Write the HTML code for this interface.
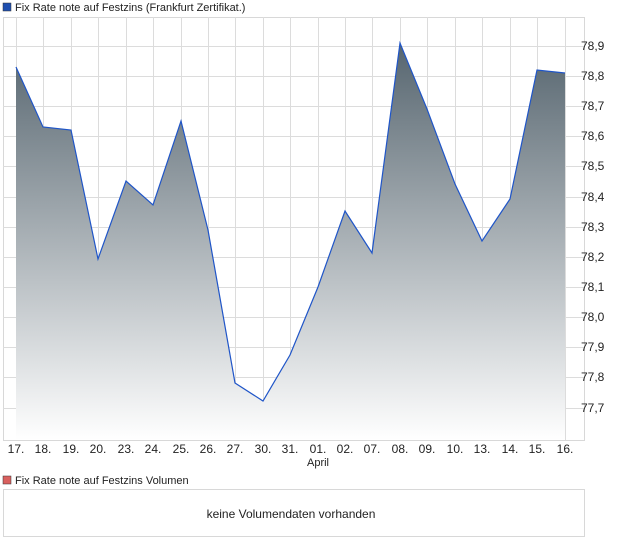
<!DOCTYPE html>
<html><head><style>
body{margin:0;width:620px;height:546px;background:#fff;font-family:"Liberation Sans",sans-serif;overflow:hidden}
</style></head><body>
<svg width="620" height="546" xmlns="http://www.w3.org/2000/svg" font-family="Liberation Sans, sans-serif" font-size="11">
<defs><linearGradient id="g" x1="0" y1="0" x2="0" y2="1">
<stop offset="0" stop-color="#56656f"/><stop offset="1" stop-color="#ffffff"/></linearGradient></defs>
<rect x="3" y="3" width="8" height="8" fill="#1f4fb0" stroke="#333" stroke-width="0.5"/>
<text x="15" y="11" fill="#222">Fix Rate note auf Festzins (Frankfurt Zertifikat.)</text>
<rect x="3.5" y="17.5" width="581" height="423" fill="none" stroke="#d8d8d8"/>
<g stroke="#dcdcdc" stroke-width="1">
<path d="M16.5 17V440M43.5 17V440M71.5 17V440M98.5 17V440M126.5 17V440M153.5 17V440M181.5 17V440M208.5 17V440M235.5 17V440M263.5 17V440M290.5 17V440M318.5 17V440M345.5 17V440M372.5 17V440M400.5 17V440M427.5 17V440M455.5 17V440M482.5 17V440M510.5 17V440M537.5 17V440M565.5 17V440"/>
<path d="M3 46.5H585M3 76.5H585M3 106.5H585M3 136.5H585M3 166.5H585M3 197.5H585M3 227.5H585M3 257.5H585M3 287.5H585M3 317.5H585M3 347.5H585M3 377.5H585M3 408.5H585"/>
</g>
<path d="M16 67L43 127L71 130L98 259L126 181L153 205L181 121L208 230L235 383L263 401L290 355L318 287L345 211L372 253L400 43L427 109L455 184L482 241L510 199L537 70L565 73L565 440L16 440Z" fill="url(#g)"/>
<path d="M16 67L43 127L71 130L98 259L126 181L153 205L181 121L208 230L235 383L263 401L290 355L318 287L345 211L372 253L400 43L427 109L455 184L482 241L510 199L537 70L565 73" fill="none" stroke="#1f55c8" stroke-width="1.2"/>
<g fill="#222" text-anchor="start" font-size="12">
<text x="581" y="50">78,9</text><text x="581" y="80">78,8</text><text x="581" y="110">78,7</text><text x="581" y="140">78,6</text><text x="581" y="170">78,5</text><text x="581" y="201">78,4</text><text x="581" y="231">78,3</text><text x="581" y="261">78,2</text><text x="581" y="291">78,1</text><text x="581" y="321">78,0</text><text x="581" y="351">77,9</text><text x="581" y="381">77,8</text><text x="581" y="412">77,7</text>
</g>
<g fill="#222" text-anchor="middle" font-size="12">
<text x="16" y="453">17.</text><text x="43" y="453">18.</text><text x="71" y="453">19.</text><text x="98" y="453">20.</text><text x="126" y="453">23.</text><text x="153" y="453">24.</text><text x="181" y="453">25.</text><text x="208" y="453">26.</text><text x="235" y="453">27.</text><text x="263" y="453">30.</text><text x="290" y="453">31.</text><text x="318" y="453">01.</text><text x="345" y="453">02.</text><text x="372" y="453">07.</text><text x="400" y="453">08.</text><text x="427" y="453">09.</text><text x="455" y="453">10.</text><text x="482" y="453">13.</text><text x="510" y="453">14.</text><text x="537" y="453">15.</text><text x="565" y="453">16.</text>
<text x="318" y="466" font-size="11">April</text>
</g>
<rect x="3" y="476" width="8" height="8" fill="#d9605e" stroke="#333" stroke-width="0.5"/>
<text x="15" y="484" fill="#222">Fix Rate note auf Festzins Volumen</text>
<rect x="3.5" y="489.5" width="581" height="47" fill="none" stroke="#d8d8d8"/>
<text x="291" y="518" text-anchor="middle" font-size="12" fill="#222">keine Volumendaten vorhanden</text>
</svg>
</body></html>
